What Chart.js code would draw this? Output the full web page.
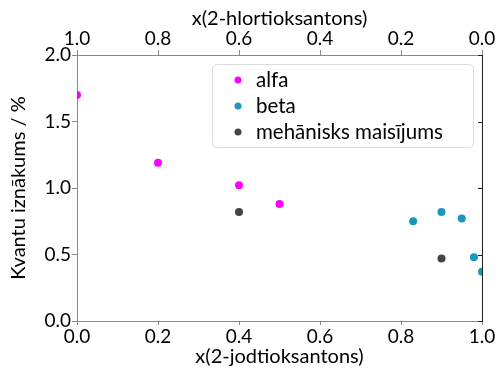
<!DOCTYPE html>
<html>
<head>
<meta charset="utf-8">
<script src="https://cdn.jsdelivr.net/npm/chart.js@4/dist/chart.umd.min.js"></script>
<style>
  html, body { margin: 0; padding: 0; background: #fff; }
  #wrap { width: 501px; height: 369px; }
</style>
</head>
<body>
<div id="wrap"><canvas id="myChart" width="501" height="369"></canvas></div>
<script>
// series values
const alfaX = [0.0, 0.2, 0.4, 0.5];
const alfaY = [1.70, 1.19, 1.02, 0.88];
const betaX = [0.83, 0.90, 0.95, 0.98, 1.0];
const betaY = [0.75, 0.82, 0.77, 0.48, 0.37];
const mixX = [0.4, 0.9];
const mixY = [0.82, 0.47];

const seriesNames = ['alfa', 'beta', 'mehānisks maisījums'];
const seriesColors = ['#ff00ff', '#1a97bf', '#444444'];

const bottomTitle = 'x(2-jodtioksantons)';
const topTitle = 'x(2-hlortioksantons)';
const yTitle = 'Kvantu iznākums / %';

function toPoints(xs, ys) {
  return xs.map((x, i) => ({ x: x, y: ys[i] }));
}

Chart.defaults.font.family = 'Lato';
Chart.defaults.font.size = 19;
Chart.defaults.color = '#000';

const titleFont = { family: 'Lato', size: 20 };

// legend drawn inside the plot area, upper right
const boxLegend = {
  id: 'boxLegend',
  afterDraw(chart) {
    const ctx = chart.ctx;
    const left = 212, top = 64, w = 261, h = 83;
    ctx.save();
    ctx.fillStyle = 'rgba(255,255,255,0.8)';
    ctx.strokeStyle = '#dcdcdc';
    ctx.lineWidth = 1;
    ctx.beginPath();
    ctx.roundRect(left + 0.5, top + 0.5, w, h, 4);
    ctx.fill();
    ctx.stroke();
    ctx.font = '20.5px Lato';
    ctx.textBaseline = 'middle';
    chart.data.datasets.forEach((ds, i) => {
      const cy = top + 16 + i * 26;
      ctx.fillStyle = ds.backgroundColor;
      ctx.beginPath();
      ctx.arc(left + 26, cy, 3.5, 0, Math.PI * 2);
      ctx.fill();
      ctx.fillStyle = '#000';
      ctx.fillText(ds.label, left + 44, cy);
    });
    ctx.restore();
  }
};

// small inward ticks on the right spine
const rightTicks = {
  id: 'rightTicks',
  afterDraw(chart) {
    const s = chart.scales.y2;
    const ctx = chart.ctx;
    ctx.save();
    ctx.strokeStyle = '#222';
    ctx.lineWidth = 1;
    s.ticks.forEach(t => {
      const py = Math.round(s.getPixelForValue(t.value)) + 0.5;
      ctx.beginPath();
      ctx.moveTo(s.left, py);
      ctx.lineTo(s.left - 4, py);
      ctx.stroke();
    });
    ctx.restore();
  }
};

const ctx = document.getElementById('myChart').getContext('2d');
const myChart = new Chart(ctx, {
  type: 'scatter',
  data: {
    datasets: [
      { label: seriesNames[0], data: toPoints(alfaX, alfaY), backgroundColor: seriesColors[0], borderColor: seriesColors[0], pointRadius: 4, pointBorderWidth: 0 },
      { label: seriesNames[1], data: toPoints(betaX, betaY), backgroundColor: seriesColors[1], borderColor: seriesColors[1], pointRadius: 4, pointBorderWidth: 0 },
      { label: seriesNames[2], data: toPoints(mixX, mixY), backgroundColor: seriesColors[2], borderColor: seriesColors[2], pointRadius: 4, pointBorderWidth: 0 }
    ]
  },
  options: {
    responsive: false,
    animation: false,
    layout: { padding: 0 },
    plugins: {
      legend: { display: false },
      tooltip: { enabled: false }
    },
    scales: {
      x: {
        type: 'linear', position: 'bottom', min: 0, max: 1,
        ticks: { stepSize: 0.2, padding: 0, callback: v => v.toFixed(1) },
        grid: { drawOnChartArea: false, tickLength: 4, color: '#888' },
        border: { color: '#888' },
        title: { display: true, text: bottomTitle, font: titleFont, padding: { top: 0, bottom: 0 } },
        afterFit: s => { s.height = 48; }
      },
      x2: {
        type: 'linear', position: 'top', min: 0, max: 1, reverse: true,
        ticks: { stepSize: 0.2, padding: 0, callback: v => v.toFixed(1) },
        grid: { drawOnChartArea: false, tickLength: 5, color: '#888' },
        border: { color: '#888' },
        title: { display: true, text: topTitle, font: titleFont, padding: { top: 7, bottom: 0 } },
        afterFit: s => { s.height = 55; }
      },
      y: {
        type: 'linear', position: 'left', min: 0, max: 2,
        ticks: { stepSize: 0.5, padding: 1, callback: v => v.toFixed(1) },
        grid: { drawOnChartArea: false, tickLength: 5, color: '#888' },
        border: { color: '#888' },
        title: { display: true, text: yTitle, font: titleFont, padding: { top: 7, bottom: 0 } },
        afterFit: s => { s.width = 77; }
      },
      y2: {
        type: 'linear', position: 'right', min: 0, max: 2,
        ticks: { display: false, stepSize: 0.5 },
        grid: { drawOnChartArea: false, drawTicks: false },
        border: { color: '#222' },
        afterFit: s => { s.width = 19; }
      }
    }
  },
  plugins: [boxLegend, rightTicks]
});
</script>
</body>
</html>
